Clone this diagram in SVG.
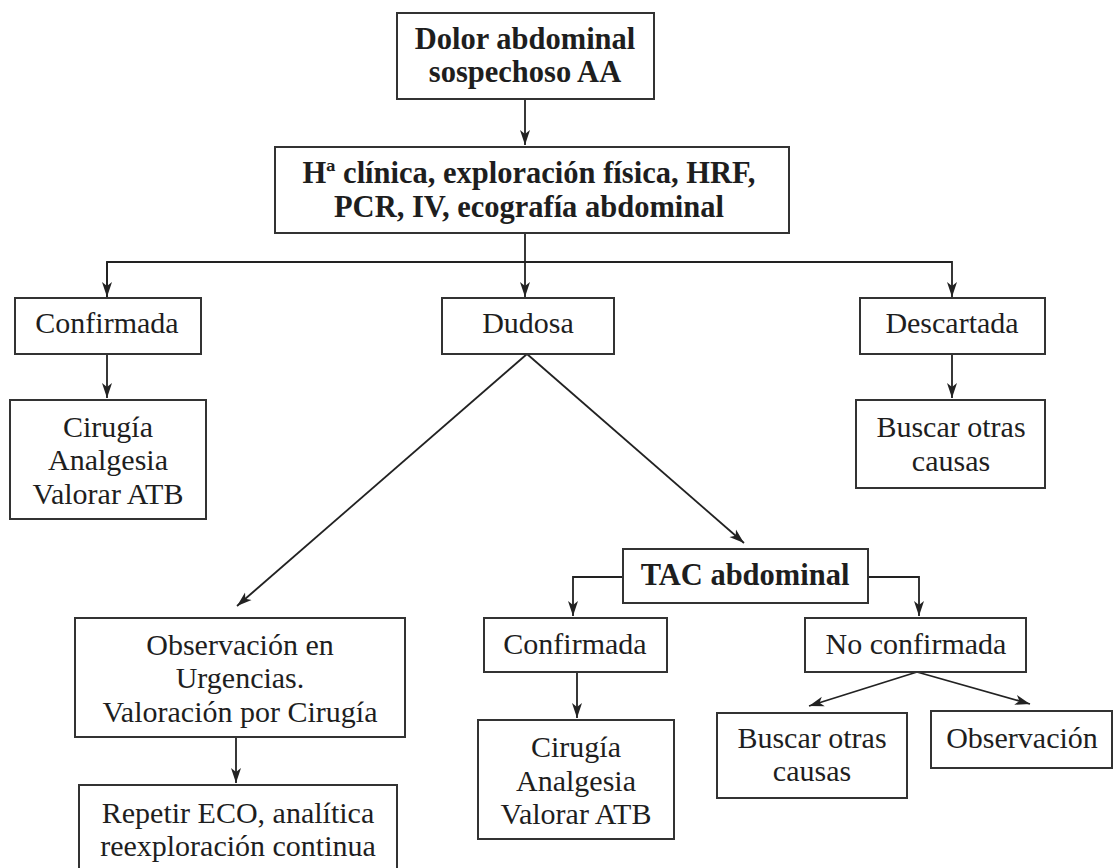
<svg xmlns="http://www.w3.org/2000/svg" width="1114" height="868" viewBox="0 0 1114 868">
<style>
.box{fill:#fff;stroke:#333;stroke-width:2}
.t{font-family:"Liberation Serif","Times New Roman",serif;font-size:30px;fill:#1e1e1e;text-anchor:middle}
.b{font-weight:bold;font-size:30.5px}
.c{fill:none;stroke:#222;stroke-width:1.8}
</style>
<defs>
<marker id="ah" markerUnits="userSpaceOnUse" markerWidth="16" markerHeight="12" refX="15" refY="6" orient="auto">
<path d="M0,1 L15,6 L0,11 L4,6 Z" fill="#222"/>
</marker>
</defs>
<rect width="1114" height="868" fill="#fff"/>
<g id="connectors">
<line class="c" x1="525" y1="99" x2="525" y2="145" marker-end="url(#ah)"/>
<line class="c" x1="525" y1="233" x2="525" y2="297" marker-end="url(#ah)"/>
<polyline class="c" points="107,297 107,262 952,262 952,297" marker-end="url(#ah)"/>
<line class="c" x1="107" y1="262" x2="107" y2="297" marker-end="url(#ah)"/>
<line class="c" x1="107" y1="354" x2="107" y2="398" marker-end="url(#ah)"/>
<line class="c" x1="952" y1="354" x2="952" y2="398" marker-end="url(#ah)"/>
<line class="c" x1="527" y1="354" x2="237" y2="606" marker-end="url(#ah)"/>
<line class="c" x1="527" y1="354" x2="744" y2="543" marker-end="url(#ah)"/>
<polyline class="c" points="623,577 573,577 573,616" marker-end="url(#ah)"/>
<polyline class="c" points="868,577 919,577 919,616" marker-end="url(#ah)"/>
<line class="c" x1="577" y1="672" x2="577" y2="718" marker-end="url(#ah)"/>
<line class="c" x1="236" y1="737" x2="236" y2="783" marker-end="url(#ah)"/>
<line class="c" x1="917" y1="672" x2="809" y2="706" marker-end="url(#ah)"/>
<line class="c" x1="917" y1="672" x2="1030" y2="704" marker-end="url(#ah)"/>
</g>
<g id="n1"><rect class="box" x="397" y="13" width="257" height="86"/>
<text class="t b" x="525" y="49">Dolor abdominal</text><text class="t b" x="525" y="82">sospechoso AA</text></g>
<g id="n2"><rect class="box" x="275" y="147" width="514" height="86"/>
<text class="t b" x="529" y="183">Hª clínica, exploración física, HRF,</text><text class="t b" x="529" y="217">PCR, IV, ecografía abdominal</text></g>
<g id="n3"><rect class="box" x="15" y="298" width="186" height="56"/>
<text class="t" x="107" y="333">Confirmada</text></g>
<g id="n4"><rect class="box" x="442" y="298" width="172" height="56"/>
<text class="t" x="528" y="333">Dudosa</text></g>
<g id="n5"><rect class="box" x="860" y="298" width="185" height="56"/>
<text class="t" x="952" y="333">Descartada</text></g>
<g id="n6"><rect class="box" x="10" y="400" width="196" height="119"/>
<text class="t" x="108" y="437">Cirugía</text><text class="t" x="108" y="470">Analgesia</text><text class="t" x="108" y="504">Valorar ATB</text></g>
<g id="n7"><rect class="box" x="856" y="400" width="189" height="88"/>
<text class="t" x="951" y="437">Buscar otras</text><text class="t" x="951" y="471">causas</text></g>
<g id="n8"><rect class="box" x="623" y="549" width="245" height="54"/>
<text class="t b" x="745" y="585">TAC abdominal</text></g>
<g id="n9"><rect class="box" x="75" y="618" width="330" height="119"/>
<text class="t" x="240" y="655">Observación en</text><text class="t" x="240" y="688">Urgencias.</text><text class="t" x="240" y="722">Valoración por Cirugía</text></g>
<g id="n10"><rect class="box" x="484" y="618" width="183" height="54"/>
<text class="t" x="575" y="654">Confirmada</text></g>
<g id="n11"><rect class="box" x="805" y="618" width="221" height="54"/>
<text class="t" x="916" y="654">No confirmada</text></g>
<g id="n12"><rect class="box" x="478" y="720" width="196" height="119"/>
<text class="t" x="576" y="757">Cirugía</text><text class="t" x="576" y="791">Analgesia</text><text class="t" x="576" y="824">Valorar ATB</text></g>
<g id="n13"><rect class="box" x="717" y="713" width="190" height="85"/>
<text class="t" x="812" y="748">Buscar otras</text><text class="t" x="812" y="781">causas</text></g>
<g id="n14"><rect class="box" x="931" y="711" width="181" height="57"/>
<text class="t" x="1022" y="748">Observación</text></g>
<g id="n15"><rect class="box" x="79" y="785" width="318" height="90"/>
<text class="t" x="238" y="823">Repetir ECO, analítica</text><text class="t" x="238" y="856">reexploración continua</text></g>
</svg>
